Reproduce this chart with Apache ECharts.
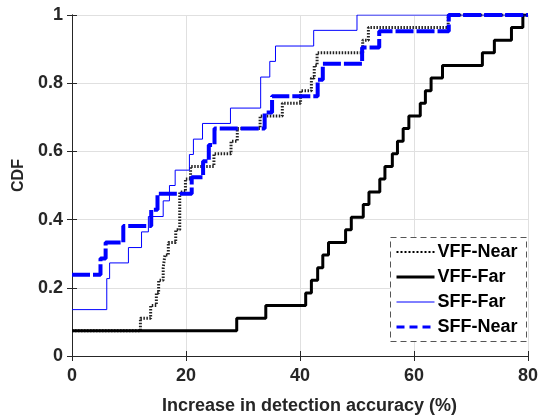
<!DOCTYPE html>
<html><head><meta charset="utf-8">
<script src="https://cdn.jsdelivr.net/npm/echarts@6/dist/echarts.min.js"></script>
<style>html,body{margin:0;padding:0;background:#fff}#c{width:541px;height:420px}</style>
</head><body><div id="c"></div>
<script>
const seriesNames = ['VFF-Near', 'VFF-Far', 'SFF-Far', 'SFF-Near'];
const xTickValues = [0, 20, 40, 60, 80];
const yTickValues = [0, 0.2, 0.4, 0.6, 0.8, 1];

const vffNearX = [0, 12.0, 13.8, 14.8, 15.2, 16.0, 16.3, 16.9, 18.2, 18.9, 19.9, 20.8, 24.9, 27.9, 29.0, 33.0, 36.9, 40.1, 42.0, 42.5, 43.0, 51.0, 52.0, 66.0, 80];
const vffNearY = [0.074, 0.111, 0.148, 0.185, 0.222, 0.259, 0.296, 0.333, 0.370, 0.481, 0.519, 0.556, 0.593, 0.630, 0.667, 0.704, 0.741, 0.778, 0.815, 0.852, 0.889, 0.926, 0.963, 1, 1];

const vffFarX = [0, 28.9, 34.0, 41.0, 42.0, 43.1, 44.0, 45.0, 48.0, 49.0, 51.1, 52.1, 54.0, 54.9, 56.2, 57.1, 58.1, 59.1, 61.1, 62.0, 63.0, 65.0, 72.0, 74.1, 77.1, 79.1, 80];
const vffFarY = [0.074, 0.111, 0.148, 0.185, 0.222, 0.259, 0.296, 0.333, 0.370, 0.407, 0.444, 0.481, 0.519, 0.556, 0.593, 0.630, 0.667, 0.704, 0.741, 0.778, 0.815, 0.852, 0.889, 0.926, 0.963, 1, 1];

const sffFarX = [0, 6.1, 6.6, 9.9, 12.2, 13.4, 16.0, 17.1, 18.1, 20.6, 21.3, 22.9, 27.8, 33.1, 34.7, 35.7, 42.4, 50.0, 80];
const sffFarY = [0.136, 0.227, 0.273, 0.318, 0.364, 0.409, 0.455, 0.500, 0.545, 0.591, 0.636, 0.682, 0.727, 0.818, 0.864, 0.909, 0.955, 1, 1];

const sffNearX = [0, 5.0, 5.9, 9.0, 13.9, 15.0, 21.0, 23.0, 24.0, 25.0, 33.8, 35.1, 43.1, 44.0, 50.9, 53.9, 66.1, 80];
const sffNearY = [0.238, 0.286, 0.333, 0.381, 0.429, 0.476, 0.524, 0.571, 0.619, 0.667, 0.714, 0.762, 0.810, 0.857, 0.905, 0.952, 1, 1];

function zip(xs, ys) { return xs.map((x, i) => [x, ys[i]]); }

const FONT = 'Liberation Sans, Arial, Helvetica, sans-serif';
const AX = '#262626';
const styles = [
  { color: '#222', width: 3, type: [1.5, 1.5] },
  { color: '#000', width: 3, type: 'solid' },
  { color: '#0000ff', width: 1, type: 'solid' },
  { color: '#0000ff', width: 4, type: [18, 3] }
];
const legendStyles = [
  { color: '#000', width: 2, type: [2, 2] },
  { color: '#000', width: 3, type: 'solid' },
  { color: '#0000ff', width: 1, type: 'solid' },
  { color: '#0000ff', width: 3, type: [8, 5] }
];
const dataSets = [zip(vffNearX, vffNearY), zip(vffFarX, vffFarY), zip(sffFarX, sffFarY), zip(sffNearX, sffNearY)];

const chart = echarts.init(document.getElementById('c'), null, { renderer: 'canvas' });
const axisCommon = {
  type: 'value',
  axisLine: { show: true, lineStyle: { color: AX, width: 1 } },
  axisTick: { show: true, inside: true, length: 5, lineStyle: { color: AX } },
};
chart.setOption({
  animation: false,
  backgroundColor: '#fff',
  grid: { left: 72, right: 12, top: 15, bottom: 62, containLabel: false },
  xAxis: [
    Object.assign({}, axisCommon, {
      min: xTickValues[0], max: xTickValues[xTickValues.length - 1], interval: 20, position: 'bottom',
      axisLabel: { color: AX, fontFamily: FONT, fontWeight: 'bold', fontSize: 18, margin: 11 },
      splitLine: { show: true, lineStyle: { color: '#e0e0e0', width: 1 } },
      name: 'Increase in detection accuracy (%)', nameLocation: 'middle', nameGap: 41,
      nameTextStyle: { color: AX, fontFamily: FONT, fontWeight: 'bold', fontSize: 18, padding: [0, 0, 0, 19] }
    }),
    Object.assign({}, axisCommon, {
      min: 0, max: 80, interval: 20, position: 'top',
      axisLabel: { show: false }, splitLine: { show: false }
    })
  ],
  yAxis: [
    Object.assign({}, axisCommon, {
      min: yTickValues[0], max: yTickValues[yTickValues.length - 1], interval: 0.2, position: 'left',
      axisLabel: { color: AX, fontFamily: FONT, fontWeight: 'bold', fontSize: 18, margin: 9 },
      splitLine: { show: true, lineStyle: { color: '#e0e0e0', width: 1 } },
      name: 'CDF', nameLocation: 'middle', nameGap: 45, nameRotate: 90,
      nameTextStyle: { color: AX, fontFamily: FONT, fontWeight: 'bold', fontSize: 16, padding: [0, 0, 0, 20] }
    }),
    Object.assign({}, axisCommon, {
      min: 0, max: 1, interval: 0.2, position: 'right',
      axisLabel: { show: false }, splitLine: { show: false }
    })
  ],
  legend: {
    orient: 'vertical', left: 395, top: 243, padding: 0, itemGap: 7,
    itemWidth: 38, itemHeight: 14, z: 20,
    textStyle: { color: '#000', fontFamily: FONT, fontWeight: 'bold', fontSize: 18, padding: [0, 0, 0, -2] },
    data: seriesNames.map((n, i) => ({
      name: n, lineStyle: legendStyles[i],
      itemStyle: { color: 'rgba(0,0,0,0)', borderColor: 'rgba(0,0,0,0)', borderWidth: 0 }
    }))
  },
  graphic: [{
    type: 'rect', z: 10, shape: { x: 390.5, y: 237.5, width: 136, height: 104 },
    style: { fill: '#fff', stroke: '#555', lineWidth: 1, lineDash: [6, 4] }
  }],
  series: seriesNames.map((n, i) => ({
    name: n, type: 'line', step: 'end', symbol: 'none', showSymbol: false,
    xAxisIndex: 0, yAxisIndex: 0, clip: true,
    lineStyle: styles[i], itemStyle: { color: styles[i].color },
    data: dataSets[i]
  }))
});
</script></body></html>
